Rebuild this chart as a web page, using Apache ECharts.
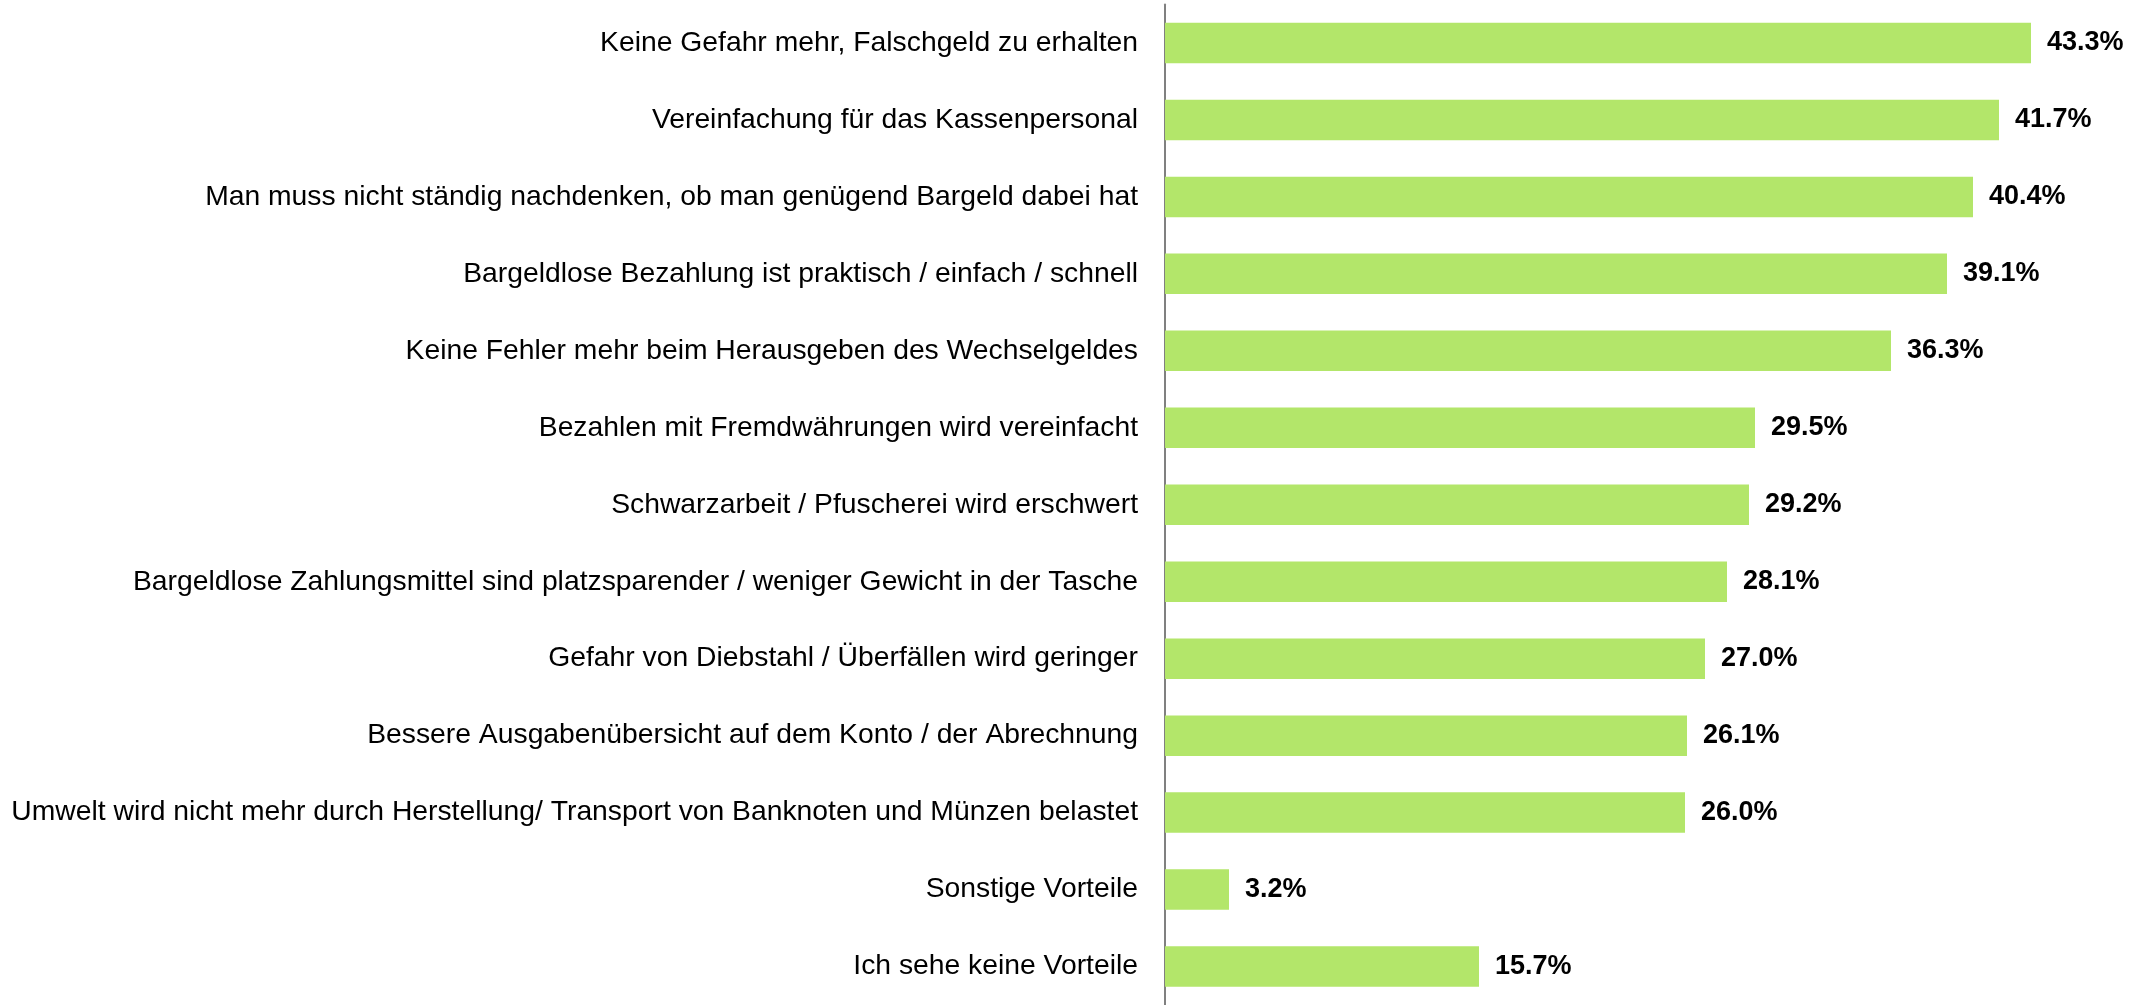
<!DOCTYPE html>
<html>
<head>
<meta charset="utf-8">
<script src="https://cdn.jsdelivr.net/npm/echarts@6/dist/echarts.min.js"></script>
<style>
html,body{margin:0;padding:0;background:#fff;}
#chart{width:2136px;height:1005px;}
</style>
</head>
<body>
<div id="chart"></div>
<script>
const categories = [
  "Keine Gefahr mehr, Falschgeld zu erhalten",
  "Vereinfachung für das Kassenpersonal",
  "Man muss nicht ständig nachdenken, ob man genügend Bargeld dabei hat",
  "Bargeldlose Bezahlung ist praktisch / einfach / schnell",
  "Keine Fehler mehr beim Herausgeben des Wechselgeldes",
  "Bezahlen mit Fremdwährungen wird vereinfacht",
  "Schwarzarbeit / Pfuscherei wird erschwert",
  "Bargeldlose Zahlungsmittel sind platzsparender / weniger Gewicht in der Tasche",
  "Gefahr von Diebstahl / Überfällen wird geringer",
  "Bessere Ausgabenübersicht auf dem Konto / der Abrechnung",
  "Umwelt wird nicht mehr durch Herstellung/ Transport von Banknoten und Münzen belastet",
  "Sonstige Vorteile",
  "Ich sehe keine Vorteile"
];
const values = [43.3, 41.7, 40.4, 39.1, 36.3, 29.5, 29.2, 28.1, 27.0, 26.1, 26.0, 3.2, 15.7];

const FONT = "'Liberation Sans', Arial, sans-serif";
const chart = echarts.init(document.getElementById('chart'));
chart.setOption({
  animation: false,
  backgroundColor: '#ffffff',
  grid: { left: 1165, width: 900, top: 4.5, height: 1005.5, containLabel: false },
  xAxis: {
    type: 'value', min: 0, max: 45, show: false,
    splitLine: { show: false }
  },
  yAxis: {
    type: 'category',
    inverse: true,
    data: categories,
    axisLine: { show: true, lineStyle: { color: '#808080', width: 2 } },
    axisTick: { show: false },
    axisLabel: {
      margin: 27,
      color: '#000000',
      fontSize: 28.3,
      fontFamily: FONT
    }
  },
  series: [{
    type: 'bar',
    data: values,
    barWidth: 40.5,
    itemStyle: { color: '#b3e66a' },
    label: {
      show: true,
      position: 'right',
      distance: 16,
      color: '#000000',
      fontSize: 27,
      fontWeight: 'bold',
      fontFamily: FONT,
      formatter: p => p.value.toFixed(1) + '%'
    }
  }]
});
</script>
</body>
</html>
